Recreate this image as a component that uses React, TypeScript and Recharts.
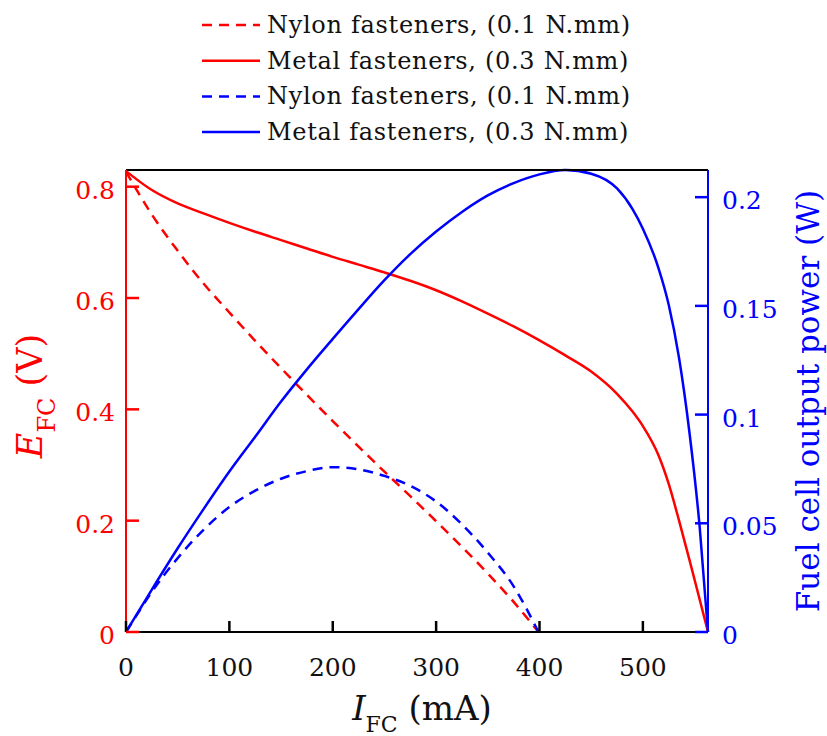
import { LineChart, Line, XAxis, YAxis, Label } from "recharts";

// current (mA) and readings for the metal-fastened cell
const currentMetal = [0, 25, 50, 75, 100, 125, 150, 175, 200, 225, 250, 275, 300, 325, 350, 375, 400, 425, 450, 475, 490, 500, 515, 525, 535, 545, 555, 563];
const voltageMetal = [0.828, 0.794, 0.77, 0.752, 0.735, 0.719, 0.704, 0.689, 0.674, 0.66, 0.646, 0.631, 0.614, 0.594, 0.572, 0.549, 0.524, 0.497, 0.468, 0.428, 0.396, 0.37, 0.318, 0.266, 0.2, 0.13, 0.058, 0];
const powerMetal = [0, 0.0195, 0.0385, 0.0565, 0.0738, 0.0898, 0.106, 0.1208, 0.1348, 0.1485, 0.1618, 0.1738, 0.1842, 0.1932, 0.2008, 0.2065, 0.2105, 0.2125, 0.2108, 0.204, 0.1945, 0.1855, 0.1675, 0.1505, 0.126, 0.092, 0.048, 0];

// current (mA) and readings for the nylon-fastened cell
const currentNylon = [0, 10, 25, 50, 75, 100, 125, 150, 175, 200, 225, 250, 275, 300, 325, 350, 375, 399];
const voltageNylon = [0.827, 0.795, 0.75, 0.685, 0.626, 0.574, 0.523, 0.474, 0.426, 0.379, 0.333, 0.288, 0.244, 0.199, 0.153, 0.105, 0.054, 0];
const powerNylon = [0, 0.0075, 0.0185, 0.034, 0.047, 0.0575, 0.065, 0.0705, 0.074, 0.0758, 0.0748, 0.0718, 0.0672, 0.06, 0.0495, 0.0365, 0.021, 0];

const xTicks = [0, 100, 200, 300, 400, 500];
const voltTicks = [0, 0.2, 0.4, 0.6, 0.8];
const powerTicks = [0, 0.05, 0.1, 0.15, 0.2];

const RED = "#ff0000";
const BLUE = "#0000ff";
const INK = "#111";
const FONT = "'DejaVu Serif', serif";
const DASH = "10 7";

const toPoints = (xs: number[], ys: number[]) => xs.map((x, i) => ({ x, y: ys[i] }));

const series = [
  { name: "Nylon fasteners, (0.1 N.mm)", color: RED, dashed: true, axis: "left", data: toPoints(currentNylon, voltageNylon) },
  { name: "Metal fasteners, (0.3 N.mm)", color: RED, dashed: false, axis: "left", data: toPoints(currentMetal, voltageMetal) },
  { name: "Nylon fasteners, (0.1 N.mm)", color: BLUE, dashed: true, axis: "right", data: toPoints(currentNylon, powerNylon) },
  { name: "Metal fasteners, (0.3 N.mm)", color: BLUE, dashed: false, axis: "right", data: toPoints(currentMetal, powerMetal) },
];

// ticks point into the plot, so the tick marks are drawn here with the labels
const LeftTick = (props: any) => {
  const x = Number(props.x);
  const y = Number(props.y);
  return (
    <g>
      <path d={`M${x + 11},${y}H${x + 24}`} stroke={RED} strokeWidth={2.5} fill="none" />
      <text x={x} y={y} dy="0.48em" textAnchor="end" fill={RED} fontFamily={FONT} fontSize={25}>
        {props.payload.value}
      </text>
    </g>
  );
};

const RightTick = (props: any) => {
  const x = Number(props.x);
  const y = Number(props.y);
  return (
    <g>
      <path d={`M${x - 14},${y}H${x - 27}`} stroke={BLUE} strokeWidth={2.5} fill="none" />
      <text x={x} y={y} dy="0.48em" textAnchor="start" fill={BLUE} fontFamily={FONT} fontSize={25}>
        {props.payload.value}
      </text>
    </g>
  );
};

const BottomTick = (props: any) => {
  const x = Number(props.x);
  const y = Number(props.y);
  return (
    <g>
      <path d={`M${x},${y}V${y - 11}`} stroke="#000" strokeWidth={2.5} fill="none" />
      <text x={x} y={y + 44} textAnchor="middle" fill={INK} fontFamily={FONT} fontSize={25}>
        {props.payload.value}
      </text>
    </g>
  );
};

const TopTick = (props: any) => {
  const x = Number(props.x);
  const y = Number(props.y);
  return <path d={`M${x},${y}V${y + 11}`} stroke="#000" strokeWidth={2.5} fill="none" />;
};

const LeftTitle = ({ viewBox }: any) => {
  const x = viewBox.x - 14;
  const y = viewBox.y + viewBox.height / 2 - 5;
  return (
    <text x={x} y={y} transform={`rotate(-90, ${x}, ${y})`} textAnchor="middle" fill={RED} fontFamily={FONT} fontSize={35}>
      <tspan fontStyle="italic">E</tspan>
      <tspan fontSize={24} dy={13}>FC</tspan>
      <tspan dy={-13}> (V)</tspan>
    </text>
  );
};

const RightTitle = ({ viewBox }: any) => {
  const x = viewBox.x + viewBox.width + 41;
  const y = viewBox.y + viewBox.height / 2;
  return (
    <text x={x} y={y} transform={`rotate(-90, ${x}, ${y})`} textAnchor="middle" fill={BLUE} fontFamily={FONT} fontSize={31}>
      Fuel cell output power (W)
    </text>
  );
};

const BottomTitle = ({ viewBox }: any) => {
  const x = viewBox.x + viewBox.width / 2 + 5;
  const y = viewBox.y + 88;
  return (
    <text x={x} y={y} textAnchor="middle" fill={INK} fontFamily={FONT} fontSize={34}>
      <tspan fontStyle="italic">I</tspan>
      <tspan fontSize={22} dy={12}>FC</tspan>
      <tspan dy={-12}> (mA)</tspan>
    </text>
  );
};

function LegendBox() {
  return (
    <svg width={827} height={150} style={{ position: "absolute", left: 0, top: 0 }}>
      {series.map((s, i) => {
        const y = 25 + i * 35.7;
        return (
          <g key={i}>
            <line x1={202} x2={260} y1={y} y2={y} stroke={s.color} strokeWidth={2.5} strokeDasharray={s.dashed ? DASH : undefined} />
            <text x={267} y={y} dominantBaseline="central" fontFamily={FONT} fontSize={24} letterSpacing={0.7} fill={INK}>
              {s.name}
            </text>
          </g>
        );
      })}
    </svg>
  );
}

export default function App() {
  return (
    <div style={{ position: "absolute", left: 0, top: 0, width: 827, height: 736, background: "#fff" }}>
      <LineChart width={827} height={736} margin={{ top: 160, right: 49, bottom: 54, left: 56 }}>
        <XAxis
          xAxisId="top"
          orientation="top"
          type="number"
          dataKey="x"
          domain={[0, 563]}
          ticks={xTicks}
          height={10}
          tickSize={0}
          tickMargin={0}
          tickLine={false}
          tick={TopTick}
          stroke="#000"
          strokeWidth={2}
        />
        <XAxis
          xAxisId="bottom"
          type="number"
          dataKey="x"
          domain={[0, 563]}
          ticks={xTicks}
          height={50}
          tickSize={0}
          tickMargin={0}
          tickLine={false}
          tick={BottomTick}
          stroke="#000"
          strokeWidth={2}
        >
          <Label content={BottomTitle} />
        </XAxis>
        <YAxis
          yAxisId="left"
          type="number"
          domain={[0, 0.83]}
          ticks={voltTicks}
          width={70}
          tickSize={0}
          tickMargin={11}
          tickLine={false}
          tick={LeftTick}
          stroke={RED}
          strokeWidth={2}
        >
          <Label content={LeftTitle} />
        </YAxis>
        <YAxis
          yAxisId="right"
          orientation="right"
          type="number"
          domain={[0, 0.2125]}
          ticks={powerTicks}
          width={70}
          tickSize={0}
          tickMargin={14}
          tickLine={false}
          tick={RightTick}
          stroke={BLUE}
          strokeWidth={2}
        >
          <Label content={RightTitle} />
        </YAxis>
        {series.map((s, i) => (
          <Line
            key={i}
            data={s.data}
            dataKey="y"
            xAxisId="bottom"
            yAxisId={s.axis}
            type="monotone"
            stroke={s.color}
            strokeWidth={2.5}
            strokeDasharray={s.dashed ? DASH : undefined}
            dot={false}
            activeDot={false}
            isAnimationActive={false}
          />
        ))}
      </LineChart>
      <LegendBox />
    </div>
  );
}
